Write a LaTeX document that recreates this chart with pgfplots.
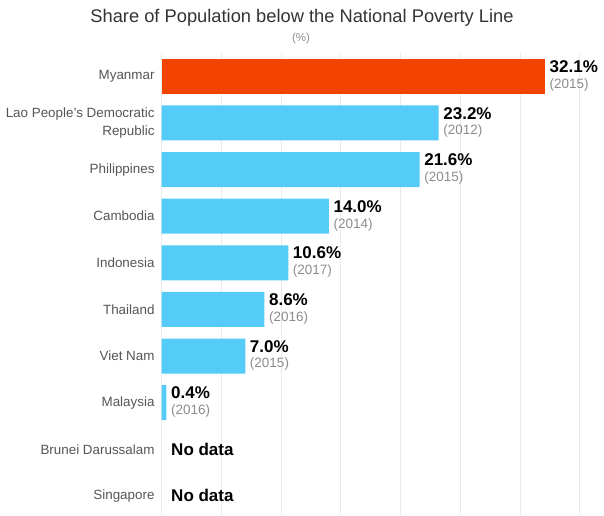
\documentclass[border=0pt]{standalone}
\usepackage{fontspec}
\setmainfont{Liberation Sans}
\usepackage{pgfplots}
\pgfplotsset{compat=1.18}

\definecolor{barorange}{HTML}{F24400}
\definecolor{barblue}{HTML}{55CCF7}
\definecolor{labelgray}{HTML}{555555}
\definecolor{yeargray}{HTML}{8C8C8C}
\definecolor{gridgray}{HTML}{EBEBEB}
\definecolor{titlegray}{HTML}{333333}

\begin{document}
\begin{tikzpicture}[x=1pt,y=1pt]
\path[use as bounding box] (0,0) rectangle (604,515);
\node[font=\fontsize{18.3}{21}\selectfont, text=titlegray] at (302,497)
  {Share of Population below the National Poverty Line};
\node[font=\fontsize{11.5}{13}\selectfont, text=yeargray] at (301,476) {(\%)};

\begin{axis}[
  at={(161.7pt,0pt)}, anchor=south west,
  scale only axis, width=417.9pt, height=462pt,
  xmin=0, xmax=35,
  ymin=-0.5, ymax=9.41, y dir=reverse,
  axis line style={draw=none},
  xtick={0,5,...,35}, xticklabels={},
  xmajorgrids, grid style={gridgray, line width=0.8pt},
  major tick length=0pt,
  ytick={0,...,9},
  yticklabels={Myanmar,{Lao People's Democratic\\Republic},Philippines,Cambodia,Indonesia,Thailand,Viet Nam,Malaysia,Brunei Darussalam,Singapore},
  yticklabel style={align=right, font=\fontsize{13.4}{18}\selectfont, text=labelgray, inner sep=0pt, xshift=-7pt},
  clip=false,
  point meta=x,
  /pgf/number format/assume math mode=true,
  visualization depends on={value \thisrow{year}\as\yr},
  nodes near coords={{\fontsize{17}{15.3}\selectfont\bfseries\pgfmathprintnumber[fixed,fixed zerofill,precision=1]{\pgfplotspointmeta}\%}\\{\color{yeargray}(\yr)}},
  every node near coord/.append style={anchor=west, align=left, inner sep=0pt, xshift=4.5pt, yshift=0.5pt, text=black, font=\fontsize{13.5}{15.8}\selectfont},
]
\addplot[xbar, bar width=35pt, bar shift=0pt, fill=barorange, draw=none] table {
value idx year
32.1 0 2015
};
\addplot[xbar, bar width=35pt, bar shift=0pt, fill=barblue, draw=none] table {
value idx year
23.2 1 2012
21.6 2 2015
14.0 3 2014
10.6 4 2017
8.6 5 2016
7.0 6 2015
0.4 7 2016
};
\node[anchor=west, font=\fontsize{17}{20}\selectfont\bfseries, xshift=6pt] at (axis cs:0,8) {No data};
\node[anchor=west, font=\fontsize{17}{20}\selectfont\bfseries, xshift=6pt] at (axis cs:0,9) {No data};
\end{axis}
\end{tikzpicture}
\end{document}
